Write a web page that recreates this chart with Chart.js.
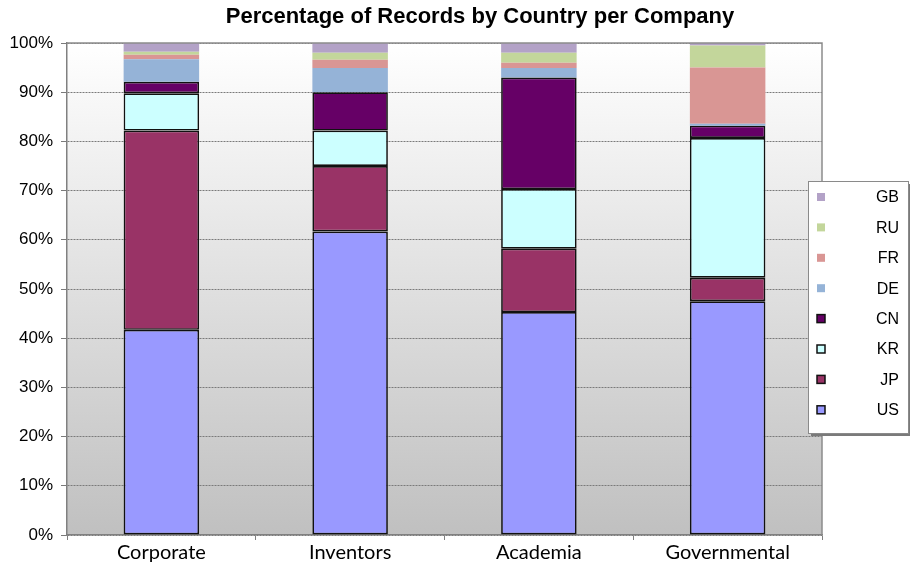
<!DOCTYPE html>
<html>
<head>
<meta charset="utf-8">
<script src="https://cdn.jsdelivr.net/npm/chart.js@4/dist/chart.umd.min.js"></script>
<style>
    html, body { margin: 0; padding: 0; background: #fff; }
    #wrap { width: 910px; height: 566px; }
</style>
</head>
<body>
<div id="wrap"><canvas id="chart" width="910" height="566"></canvas></div>
<script>
// categories and tick labels
const categories = ['Corporate', 'Inventors', 'Academia', 'Governmental'];
const yTicks = [0, 10, 20, 30, 40, 50, 60, 70, 80, 90, 100];
const chartTitle = 'Percentage of Records by Country per Company';

// share of records (%) per country
const US = [41.7, 61.7, 45.3, 47.5];
const JP = [40.5, 13.3, 12.9, 4.8];
const KR = [7.6, 7.2, 12.1, 28.4];
const CN = [2.3, 7.8, 22.7, 2.5];
const DE = [4.6, 4.9, 1.9, 0.4];
const FR = [0.9, 1.7, 1.1, 11.4];
const RU = [0.6, 1.4, 2.0, 4.5];
const GB = [1.8, 2.0, 2.0, 0.5];

const seriesNames = ['US', 'JP', 'KR', 'CN', 'DE', 'FR', 'RU', 'GB'];
const seriesData = [US, JP, KR, CN, DE, FR, RU, GB];
const seriesColors = ['#9999ff', '#993366', '#ccffff', '#660066', '#95b3d7', '#d99694', '#c3d69b', '#b3a2c7'];
const outlined = [true, true, true, true, false, false, false, false];

const datasets = seriesNames.map((name, i) => ({
    label: name,
    data: seriesData[i],
    backgroundColor: seriesColors[i],
    borderColor: '#111',
    borderWidth: outlined[i] ? 1.7 : 0,
    borderSkipped: false,
    categoryPercentage: 1,
    barPercentage: 0.4
}));

// gradient background + frame of the plot area, title over the full width
const plotBackground = {
    id: 'plotBackground',
    beforeDraw(chart) {
        const { ctx, chartArea: a } = chart;
        const g = ctx.createLinearGradient(0, a.top, 0, a.bottom);
        g.addColorStop(0, '#ffffff');
        g.addColorStop(1, '#c0c0c0');
        ctx.save();
        ctx.fillStyle = g;
        ctx.fillRect(a.left, a.top, a.right - a.left, a.bottom - a.top);
        ctx.fillStyle = '#000';
        ctx.font = 'bold 22px "Liberation Sans", Arial, sans-serif';
        ctx.textAlign = 'center';
        ctx.textBaseline = 'middle';
        ctx.fillText(chartTitle, 480, 17);
        ctx.restore();
    },
    afterDatasetsDraw(chart) {
        const { ctx, chartArea: a } = chart;
        ctx.save();
        ctx.strokeStyle = '#8c8c8c';
        ctx.lineWidth = 1.5;
        ctx.beginPath();
        ctx.moveTo(a.left, a.top);
        ctx.lineTo(a.right, a.top);
        ctx.lineTo(a.right, a.bottom);
        ctx.stroke();
        ctx.restore();
    }
};

// boxed legend, right-aligned labels, reversed order
const boxLegend = {
    id: 'boxLegend',
    afterDraw(chart) {
        const ctx = chart.ctx;
        const x = 808, y = 181, w = 100, h = 252;
        ctx.save();
        ctx.fillStyle = '#7a7a7a';
        ctx.fillRect(x + 3, y + 3, w, h);
        ctx.fillStyle = '#fff';
        ctx.fillRect(x, y, w, h);
        ctx.strokeStyle = '#8a8a8a';
        ctx.lineWidth = 1;
        ctx.strokeRect(x + 0.5, y + 0.5, w, h);
        ctx.font = '16px "Liberation Sans", Arial, sans-serif';
        ctx.textAlign = 'right';
        ctx.textBaseline = 'middle';
        const order = chart.data.datasets.map((d, i) => i).reverse();
        order.forEach((di, k) => {
            const ds = chart.data.datasets[di];
            const cy = 197 + k * 30.4;
            ctx.fillStyle = ds.backgroundColor;
            ctx.fillRect(817, cy - 4, 8, 8);
            if (ds.borderWidth > 0) {
                ctx.strokeStyle = '#111';
                ctx.lineWidth = 1.5;
                ctx.strokeRect(817, cy - 4, 8, 8);
            }
            ctx.fillStyle = '#000';
            ctx.fillText(ds.label, 899, cy + 1);
        });
        ctx.restore();
    }
};

new Chart(document.getElementById('chart'), {
    type: 'bar',
    data: { labels: categories, datasets },
    options: {
        responsive: false,
        animation: false,
        layout: { padding: { left: 0, right: 88, top: 43, bottom: 0 } },
        plugins: {
            legend: { display: false },
            tooltip: { enabled: false },
            title: { display: false }
        },
        scales: {
            x: {
                stacked: true,
                grid: { display: true, drawOnChartArea: false, offset: true, tickLength: 5, color: '#808080' },
                border: { color: '#808080', width: 1.5 },
                ticks: {
                    color: '#000',
                    padding: 1,
                    font: { family: 'Lato, "Open Sans", sans-serif', size: 20 }
                },
                afterFit: (axis) => { axis.height = 31; }
            },
            y: {
                stacked: true,
                min: 0,
                max: 100,
                afterBuildTicks: (axis) => { axis.ticks = yTicks.map(v => ({ value: v })); },
                grid: { color: '#7a7a7a', lineWidth: 1, tickLength: 6 },
                border: { color: '#808080', width: 1.5, dash: [2, 1] },
                ticks: {
                    color: '#000',
                    padding: 8,
                    font: { family: '"Liberation Sans", Arial, sans-serif', size: 17 },
                    callback: (v) => v + '%'
                },
                afterFit: (axis) => { axis.width = 67; }
            }
        }
    },
    plugins: [plotBackground, boxLegend]
});
</script>
</body>
</html>
